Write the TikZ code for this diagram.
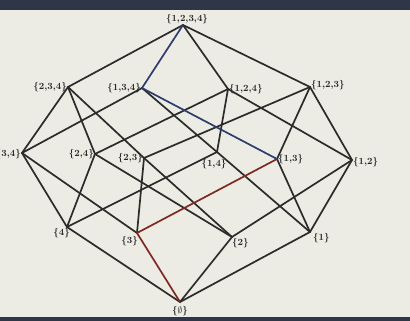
\documentclass[tikz,border=0pt]{standalone}
\usepackage{amssymb}
\usetikzlibrary{positioning}
\definecolor{screen}{HTML}{ECECE4}
\definecolor{bezel}{HTML}{2E3647}
\definecolor{edgegray}{HTML}{2B2B2B}
\definecolor{chainblue}{HTML}{2F3C6E}
\definecolor{chainred}{HTML}{7E2A24}
\tikzset{
  edge/.style={
    line width=1.7pt,
    color=edgegray,
    line cap=round
  },
  blue edge/.style={
    edge,
    color=chainblue
  },
  red edge/.style={
    edge,
    color=chainred
  },
  set label/.style={
    font=\fontsize{9.5}{10}\selectfont\bfseries,
    text=black!85,
    inner sep=1pt
  }
}
\begin{document}
\begin{tikzpicture}[x=1pt, y=-1pt]
    % 背景与屏幕边框
    \useasboundingbox (0,0) rectangle (410,321);
    \fill[screen] (0,0) rectangle (410,321);
    \fill[bezel] (0,0) rectangle (410,10);
    \fill[bezel] (0,317) rectangle (410,321);

    % 各子集的顶点
    \coordinate (s1234) at (183,25);
    \coordinate (s234) at (68,87);
    \coordinate (s134) at (142,88);
    \coordinate (s124) at (228,89);
    \coordinate (s123) at (310,87);
    \coordinate (s34) at (22,153);
    \coordinate (s24) at (95,154);
    \coordinate (s23) at (144,158);
    \coordinate (s14) at (217,152);
    \coordinate (s13) at (277,159);
    \coordinate (s12) at (352,160);
    \coordinate (s4) at (67,227);
    \coordinate (s3) at (137,233);
    \coordinate (s2) at (232,237);
    \coordinate (s1) at (310,232);
    \coordinate (e) at (180,302);

    % 覆盖关系 (黑色边)
    \foreach \a/\b in {e/s1, e/s2, e/s4,
                       s1/s12, s1/s13, s1/s14,
                       s2/s12, s2/s23, s2/s24,
                       s3/s23, s3/s34,
                       s4/s14, s4/s24, s4/s34,
                       s12/s123, s12/s124, s13/s123,
                       s14/s124, s14/s134, s23/s123, s23/s234,
                       s24/s124, s24/s234, s34/s134, s34/s234,
                       s123/s1234, s124/s1234, s234/s1234} {
      \draw[edge] (\a) -- (\b);
    }

    % 标出的链
    \draw[red edge] (e) -- (s3);
    \draw[red edge] (s3) -- (s13);
    \draw[blue edge] (s13) -- (s134);
    \draw[blue edge] (s134) -- (s1234);

    % 标签
    \node[set label, above, xshift=4pt] (l1234) at (s1234) {\{1,2,3,4\}};
    \node[set label, left] (l234) at (s234) {\{2,3,4\}};
    \node[set label, left] (l134) at (s134) {\{1,3,4\}};
    \node[set label, right] (l124) at (s124) {\{1,2,4\}};
    \node[set label, right, yshift=2pt] (l123) at (s123) {\{1,2,3\}};
    \node[set label, left, yshift=-1pt] (l34) at (s34) {\{3,4\}};
    \node[set label, left] (l24) at (s24) {\{2,4\}};
    \node[set label, left] (l23) at (s23) {\{2,3\}};
    \node[set label, below, xshift=-3pt, yshift=-6pt] (l14) at (s14) {\{1,4\}};
    \node[set label, right] (l13) at (s13) {\{1,3\}};
    \node[set label, right, yshift=-2pt] (l12) at (s12) {\{1,2\}};
    \node[set label, below left, xshift=4pt] (l4) at (s4) {\{4\}};
    \node[set label, below left, xshift=2pt, yshift=-2pt] (l3) at (s3) {\{3\}};
    \node[set label, below right, xshift=-1pt] (l2) at (s2) {\{2\}};
    \node[set label, below right, xshift=2pt] (l1) at (s1) {\{1\}};
    \node[set label, below, yshift=-3pt] (le) at (e) {\{$\emptyset$\}};
\end{tikzpicture}
\end{document}
